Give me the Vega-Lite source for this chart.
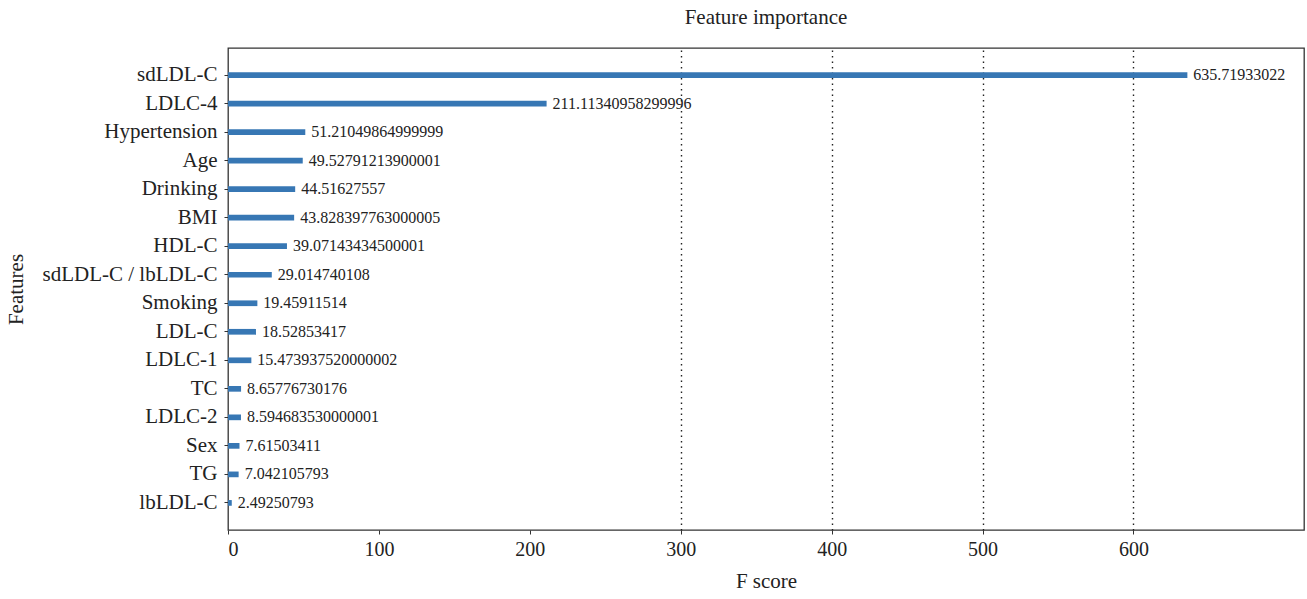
{
  "$schema": "https://vega.github.io/schema/vega-lite/v6.json",
  "width": 1076,
  "height": 482,
  "autosize": {"type": "none"},
  "padding": {"left": 228, "top": 48, "right": 3, "bottom": 69},
  "background": "white",
  "title": {
    "text": "Feature importance",
    "font": "Liberation Serif",
    "fontSize": 21,
    "fontWeight": "normal",
    "color": "#222222",
    "anchor": "middle",
    "offset": 20
  },
  "data": {
    "values": [
      {"feature": "sdLDL-C", "score": 635.71933022, "label": "635.71933022"},
      {"feature": "LDLC-4", "score": 211.11340958299996, "label": "211.11340958299996"},
      {"feature": "Hypertension", "score": 51.21049864999999, "label": "51.21049864999999"},
      {"feature": "Age", "score": 49.52791213900001, "label": "49.52791213900001"},
      {"feature": "Drinking", "score": 44.51627557, "label": "44.51627557"},
      {"feature": "BMI", "score": 43.828397763000005, "label": "43.828397763000005"},
      {"feature": "HDL-C", "score": 39.07143434500001, "label": "39.07143434500001"},
      {"feature": "sdLDL-C / lbLDL-C", "score": 29.014740108, "label": "29.014740108"},
      {"feature": "Smoking", "score": 19.45911514, "label": "19.45911514"},
      {"feature": "LDL-C", "score": 18.52853417, "label": "18.52853417"},
      {"feature": "LDLC-1", "score": 15.473937520000002, "label": "15.473937520000002"},
      {"feature": "TC", "score": 8.65776730176, "label": "8.65776730176"},
      {"feature": "LDLC-2", "score": 8.594683530000001, "label": "8.594683530000001"},
      {"feature": "Sex", "score": 7.61503411, "label": "7.61503411"},
      {"feature": "TG", "score": 7.042105793, "label": "7.042105793"},
      {"feature": "lbLDL-C", "score": 2.49250793, "label": "2.49250793"}
    ]
  },
  "encoding": {
    "y": {
      "field": "feature",
      "type": "nominal",
      "sort": {"field": "score", "order": "descending"},
      "scale": {"paddingInner": 0.8, "paddingOuter": 0.85},
      "axis": {
        "title": "Features",
        "titleFont": "Liberation Serif",
        "titleFontSize": 21,
        "titleFontWeight": "normal",
        "titleColor": "#222222",
        "titlePadding": 16,
        "labelFont": "Liberation Serif",
        "labelFontSize": 21,
        "labelColor": "#222222",
        "labelPadding": 7,
        "tickSize": 4,
        "tickColor": "#333333",
        "domain": false,
        "grid": false
      }
    },
    "x": {
      "field": "score",
      "type": "quantitative",
      "scale": {"domain": [0, 713], "nice": false, "zero": true},
      "axis": {
        "title": "F score",
        "titleFont": "Liberation Serif",
        "titleFontSize": 21,
        "titleFontWeight": "normal",
        "titleColor": "#222222",
        "titlePadding": 11,
        "labelFont": "Liberation Serif",
        "labelFontSize": 20,
        "labelColor": "#222222",
        "labelPadding": 5,
        "values": [0, 100, 200, 300, 400, 500, 600],
        "format": "d",
        "tickSize": 4,
        "tickColor": "#333333",
        "domain": false,
        "grid": true,
        "gridColor": "#222222",
        "gridWidth": 1.4,
        "gridDash": [1.5, 4],
        "gridOpacity": {"condition": {"test": "datum.value >= 300", "value": 1}, "value": 0}
      }
    }
  },
  "layer": [
    {
      "mark": {"type": "bar", "color": "#3777b4"}
    },
    {
      "mark": {
        "type": "text",
        "align": "left",
        "baseline": "middle",
        "dx": 6,
        "font": "Liberation Serif",
        "fontSize": 16,
        "color": "#222222"
      },
      "encoding": {"text": {"field": "label"}}
    }
  ],
  "config": {
    "view": {"stroke": "#333333", "strokeWidth": 1.3}
  }
}
